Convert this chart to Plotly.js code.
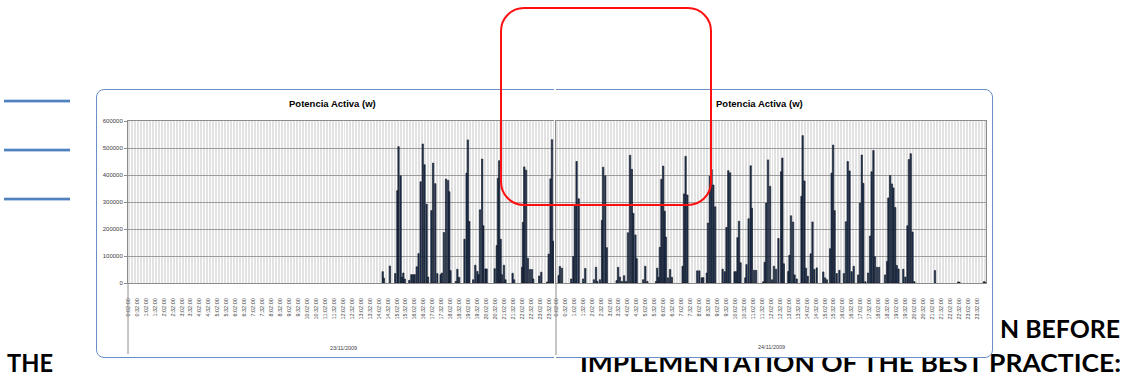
<!DOCTYPE html>
<html>
<head>
<meta charset="utf-8">
<script src="https://cdn.plot.ly/plotly-3.0.1.min.js"></script>
<style>
html,body{margin:0;padding:0;background:#fff;}
body{width:1138px;height:382px;position:relative;overflow:hidden;}
#slide{position:absolute;left:0;top:0;z-index:1;}
#frame{position:absolute;left:96px;top:88.5px;width:897px;height:269px;box-sizing:border-box;background:#fff;border:1.3px solid #6a90c8;border-radius:8px;z-index:2;}
.gap{position:absolute;width:2px;height:4px;background:#fff;z-index:2;}
#chart{position:absolute;left:0;top:0;width:1138px;height:382px;z-index:3;}
#redbox{position:absolute;left:500px;top:7px;width:212px;height:199px;box-sizing:border-box;border:2.2px solid #ff1010;border-radius:24px;z-index:4;pointer-events:none;}
</style>
</head>
<body>
<svg id="slide" width="1138" height="382">
  <rect x="4" y="99.7" width="66" height="2.7" fill="#4f81bd"/>
  <rect x="4" y="148.7" width="66" height="2.7" fill="#4f81bd"/>
  <rect x="4" y="197.7" width="66" height="2.7" fill="#4f81bd"/>
  <g font-family="Lato, 'Open Sans', sans-serif" font-weight="bold" font-size="24" fill="#000">
    <text x="7" y="372" textLength="46" lengthAdjust="spacingAndGlyphs">THE</text>
    <text x="1000" y="337.5" textLength="120" lengthAdjust="spacingAndGlyphs">N BEFORE</text>
    <text x="580" y="372" textLength="541" lengthAdjust="spacingAndGlyphs">IMPLEMENTATION OF THE BEST PRACTICE:</text>
  </g>
</svg>
<div id="frame"></div>
<div class="gap" style="left:553.5px;top:87px;"></div>
<div class="gap" style="left:553.5px;top:355px;"></div>
<div id="chart"></div>
<div id="redbox"></div>
<script>
// ---------- DATA ----------
const chartTitle = "Potencia Activa (w)";
const dayLabels = ["23/11/2009", "24/11/2009"];

// Day 1 (23/11/2009): sample time and active power (W); all other samples are 0
const day1Time = ["14:15","14:19","14:39","14:57","15:04","15:08","15:15","15:20","15:24","15:29",
  "15:44","15:51","15:57","16:02","16:09","16:15","16:22","16:29","16:35","16:42","16:47",
  "16:58","17:04","17:11","17:18","17:29","17:33","17:40","17:47","17:54","17:58","18:02",
  "18:20","18:25","18:31","18:49","18:56","19:00","19:05","19:18","19:25","19:32","19:36",
  "19:41","19:48","19:52","19:59","20:03","20:30","20:37","20:41","20:45","20:50","20:54",
  "21:01","21:06","21:30","21:35","22:02","22:05","22:09","22:15","22:21","22:28","22:35",
  "22:39","22:59","23:06","23:26","23:31","23:37","23:42","23:46"];
const day1Power = [42000,18000,63000,35000,342000,505000,397000,22000,37000,15000,
  10000,31000,31000,31000,60000,109000,375000,515000,438000,292000,22000,
  268000,444000,368000,35000,31000,37000,187000,385000,380000,338000,46000,
  6000,51000,21000,162000,407000,530000,228000,12000,66000,43000,31000,
  271000,459000,212000,52000,52000,53000,139000,388000,453000,162000,31000,
  66000,12000,36000,12000,58000,225000,430000,418000,92000,50000,50000,
  15000,26000,40000,4000,107000,386000,531000,155000];

// Day 2 (24/11/2009)
const day2Time = ["0:11","0:15","0:22","0:53","1:00","1:05","1:11","1:18","1:33","1:40",
  "2:09","2:16","2:20","2:29","2:36","2:40","2:47","2:52","3:25","3:30","3:36","3:43","3:50","3:56",
  "4:03","4:10","4:16","4:21","4:28","4:32","4:54","5:01","5:08","5:37","5:41","5:46","5:50",
  "5:55","6:01","6:06","6:10","6:17","6:24","6:30","7:06","7:11","7:16","7:22","7:55","8:02",
  "8:10","8:15","8:27","8:31","8:37","8:43","8:49","8:55","9:20","9:27","9:33","9:39","9:45",
  "10:00","10:05","10:10","10:15","10:20","10:36","10:40","10:47","10:54","10:58","11:05","11:12",
  "11:36","11:41","11:46","11:52","11:59","12:06","12:12","12:19","12:27","12:36","12:40","12:45",
  "13:00","13:04","13:09","13:16","13:21","13:28","13:44","13:48","13:54","13:59","14:05","14:15",
  "14:21","14:27","14:35","14:57","15:03","15:09","15:20","15:25","15:30","15:35","15:42","15:51",
  "16:06","16:13","16:19","16:25","16:32","16:39","16:54","17:00","17:06","17:11","17:18","17:27",
  "17:34","17:39","17:45","17:50","17:57","18:04","18:24","18:31","18:35","18:41","18:47","18:52",
  "18:58","19:03","19:09","19:25","19:32","19:39","19:44","19:50","19:56","20:02","21:11","22:29",
  "22:33","23:55","23:59"];
const day2Power = [28000,61000,55000,15000,98000,291000,450000,312000,15000,54000,
  12000,58000,6000,12000,232000,429000,397000,131000,9000,58000,22000,6000,27000,6000,
  186000,473000,421000,258000,178000,90000,12000,62000,6000,6000,55000,21000,132000,
  384000,433000,266000,170000,19000,50000,21000,62000,330000,469000,326000,45000,45000,
  19000,20000,37000,222000,396000,420000,363000,282000,51000,42000,206000,416000,408000,
  42000,42000,168000,229000,75000,19000,68000,238000,434000,277000,47000,47000,
  5000,77000,296000,456000,358000,12000,62000,51000,165000,412000,463000,71000,
  43000,103000,249000,226000,30000,15000,321000,546000,378000,55000,25000,108000,
  226000,50000,56000,41000,19000,12000,127000,407000,511000,268000,35000,47000,
  35000,227000,450000,415000,42000,62000,30000,296000,474000,369000,5000,37000,
  174000,412000,491000,97000,58000,58000,30000,80000,315000,398000,367000,352000,
  280000,65000,52000,51000,22000,212000,457000,479000,189000,5000,46000,4000,
  3000,5000,3000];

// Category tick labels every 30 minutes, starting at 0:02:00
const tickText = [];
for (let h = 0; h < 24; h++) { tickText.push(h + ":02:00"); tickText.push(h + ":32:00"); }

// ---------- helpers ----------
const toMin = s => { const p = s.split(":"); return (+p[0]) * 60 + (+p[1]); };
const tickVals = tickText.map(toMin);

const W = 1138, H = 382, ML = 128, MR = 152, MT = 121, MB = 99;
const PW = W - ML - MR, PH = H - MT - MB;
const px = x => (x - ML) / PW;
const py = y => 1 - (y - MT) / PH;
const minPerPx = 1440 / 430;

const FONT = "Liberation Sans, Arial, sans-serif";
const barStyle = {color: "#233a5e", line: {color: "#0b111c", width: 0.6}};

const traces = [
  {type: "bar", x: day1Time.map(toMin), y: day1Power, xaxis: "x", yaxis: "y",
   width: 4.5, marker: barStyle, hoverinfo: "x+y", showlegend: false},
  {type: "bar", x: day2Time.map(toMin), y: day2Power, xaxis: "x2", yaxis: "y2",
   width: 4.5, marker: barStyle, hoverinfo: "x+y", showlegend: false}
];

const xCommon = {
  tickmode: "array", tickvals: tickVals, ticktext: tickText, tickangle: -90,
  tickfont: {family: FONT, size: 5.5, color: "#404040"},
  showgrid: true, gridcolor: "#ffffff", gridwidth: 1,
  minor: {tickmode: "linear", tick0: 2, dtick: 10, showgrid: true, gridcolor: "#ffffff", gridwidth: 1},
  showline: true, linecolor: "#8c8c8c", linewidth: 1, mirror: true,
  ticks: "", zeroline: false, fixedrange: true, ticklabelstandoff: 12
};
const yCommon = {
  range: [0, 600000], dtick: 100000, tick0: 0, tickformat: "d",
  showgrid: true, gridcolor: "#9c9c9c", gridwidth: 1,
  showline: true, linecolor: "#8c8c8c", linewidth: 1,
  zeroline: false, fixedrange: true,
  tickfont: {family: FONT, size: 6, color: "#404040"}
};

const ann = (text, x, y, size, color) => ({
  text: text, xref: "paper", yref: "paper", x: px(x), y: py(y),
  xanchor: "center", yanchor: "middle", showarrow: false,
  font: {family: FONT, size: size, color: color}
});

const layout = {
  width: W, height: H,
  margin: {l: ML, r: MR, t: MT, b: MB, pad: 0},
  paper_bgcolor: "rgba(0,0,0,0)", plot_bgcolor: "#e2e2e2",
  bargap: 0, showlegend: false,
  xaxis: Object.assign({}, xCommon, {domain: [0, px(554)], range: [2, 2 + (554 - 128) * minPerPx], anchor: "y"}),
  xaxis2: Object.assign({}, xCommon, {domain: [px(556), 1], range: [2, 1442], anchor: "y2"}),
  yaxis: Object.assign({}, yCommon, {anchor: "x", mirror: false, ticks: "outside", ticklen: 3, tickcolor: "#8c8c8c"}),
  yaxis2: Object.assign({}, yCommon, {anchor: "x2", mirror: true, ticks: "", showticklabels: false}),
  annotations: [
    ann("<b>" + chartTitle + "</b>", 332, 103, 9.5, "#000"),
    ann("<b>" + chartTitle + "</b>", 759, 103, 9.5, "#000"),
    ann(dayLabels[0], 343, 348, 5.5, "#404040"),
    ann(dayLabels[1], 771, 347, 5.5, "#404040")
  ],
  shapes: [
    {type: "line", xref: "paper", yref: "paper", x0: px(128), x1: px(128), y0: py(283), y1: py(354),
     line: {color: "#8c8c8c", width: 1}},
    {type: "line", xref: "paper", yref: "paper", x0: px(556), x1: px(556), y0: py(283), y1: py(355),
     line: {color: "#8c8c8c", width: 1}}
  ]
};

Plotly.newPlot("chart", traces, layout, {staticPlot: true, displayModeBar: false});
</script>
</body>
</html>
